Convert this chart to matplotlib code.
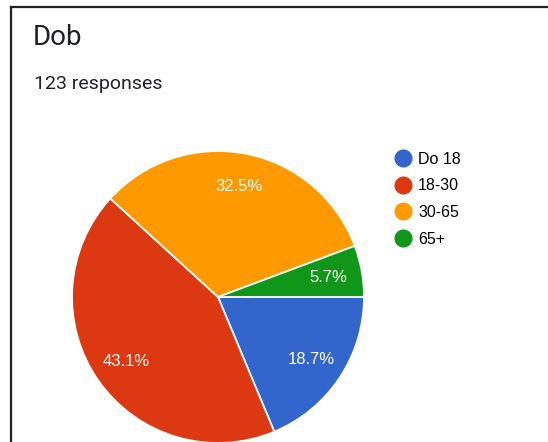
import matplotlib.pyplot as plt
from matplotlib.lines import Line2D

# Datos de la encuesta
etiquetas = ['Do 18', '18-30', '30-65', '65+']
respuestas = [23, 53, 40, 7]
colores = ['#3366CC', '#DC3912', '#FF9900', '#109618']
titulo = 'Dob'
subtitulo = '123 responses'

W, H = 548, 442
fig = plt.figure(figsize=(W / 100, H / 100), dpi=100)
fig.patch.set_facecolor('white')

# Eje cuadrado para el pastel (centro ~ (218, 297) px, radio ~146 px)
cx, cy, r = 218, 297, 146
ax = fig.add_axes([(cx - r) / W, (H - cy - r) / H, 2 * r / W, 2 * r / H])

wedges, textos, pcts = ax.pie(
    respuestas, colors=colores, startangle=0, counterclock=False,
    radius=1, autopct='%.1f%%', pctdistance=0.77,
    wedgeprops=dict(edgecolor='white', linewidth=1.3),
    textprops=dict(color='white', fontsize=12, family='Liberation Sans'))
ax.set_xlim(-1, 1)
ax.set_ylim(-1, 1)
ax.axis('off')

# Borde de la tarjeta
fig.add_artist(Line2D([11 / W, 1], [1 - 6.5 / H, 1 - 6.5 / H], color='#222222', lw=1.6))
fig.add_artist(Line2D([11 / W, 11 / W], [0, 1 - 6.5 / H], color='#222222', lw=1.6))

fig.text(33 / W, 1 - 45 / H, titulo, fontsize=20, family='Roboto', color='#202124')
fig.text(34 / W, 1 - 89 / H, subtitulo, fontsize=14, family='Roboto', color='#202124')

# Leyenda
handles = [Line2D([], [], marker='o', ls='', markersize=12, color=c) for c in colores]
fig.legend(handles, etiquetas, loc='upper left', bbox_to_anchor=(395 / W, 1 - 152 / H),
           frameon=False, borderpad=0, borderaxespad=0, handlelength=1.05,
           handletextpad=0.4, labelspacing=0.72,
           prop=dict(family='Liberation Sans', size=11.5))

fig.savefig('out.png', dpi=100)
